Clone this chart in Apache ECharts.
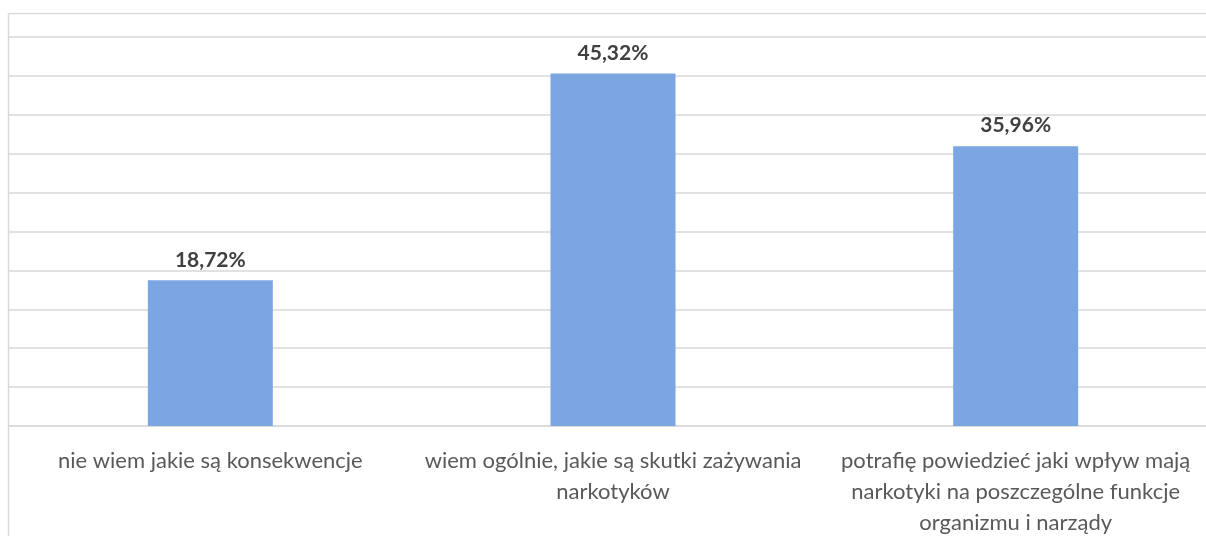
<!DOCTYPE html>
<html>
<head>
<meta charset="utf-8">
<script src="https://cdn.jsdelivr.net/npm/echarts@6/dist/echarts.min.js"></script>
<style>
html,body{margin:0;padding:0;background:#fff;}
#chart{width:1206px;height:536px;}
</style>
</head>
<body>
<div id="chart"></div>
<script>
const categories = [
  "nie wiem jakie są konsekwencje",
  "wiem ogólnie, jakie są skutki zażywania\nnarkotyków",
  "potrafię powiedzieć jaki wpływ mają\nnarkotyki na poszczególne funkcje\norganizmu i narządy"
];
const values = [18.72, 45.32, 35.96];
const yMin = 0, yMax = 50, yInterval = 5;

const chart = echarts.init(document.getElementById('chart'), null, {renderer: 'canvas'});
chart.setOption({
  animation: false,
  backgroundColor: '#ffffff',
  textStyle: {fontFamily: 'Lato, "Open Sans", sans-serif'},
  graphic: [
    {type: 'line', shape: {x1: 8.5, y1: 13.5, x2: 1206, y2: 13.5},
     style: {stroke: '#d9d9d9', lineWidth: 1.5}, silent: true},
    {type: 'line', shape: {x1: 8.5, y1: 13.5, x2: 8.5, y2: 536},
     style: {stroke: '#d9d9d9', lineWidth: 1.5}, silent: true}
  ],
  grid: {left: 9, width: 1208, top: 37, height: 389, containLabel: false, outerBoundsMode: 'none'},
  xAxis: {
    type: 'category',
    data: categories,
    axisLine: {show: true, lineStyle: {color: '#d9d9d9', width: 1.5}},
    axisTick: {show: false},
    axisLabel: {
      color: '#595959', fontSize: 22, lineHeight: 31, margin: 19,
      fontFamily: 'Lato, "Open Sans", sans-serif', interval: 0, align: 'center'
    }
  },
  yAxis: {
    type: 'value', min: yMin, max: yMax, interval: yInterval,
    axisLabel: {show: false}, axisLine: {show: false}, axisTick: {show: false},
    splitLine: {show: true, lineStyle: {color: '#d9d9d9', width: 1.5}}
  },
  series: [{
    type: 'bar',
    data: values,
    barWidth: 125,
    itemStyle: {color: '#7ba6e2'},
    label: {
      show: true, position: 'top', distance: 10,
      color: '#404040', fontSize: 21, fontWeight: 'bold',
      fontFamily: 'Lato, "Open Sans", sans-serif',
      formatter: p => p.value.toFixed(2).replace('.', ',') + '%'
    }
  }]
});
</script>
</body>
</html>
